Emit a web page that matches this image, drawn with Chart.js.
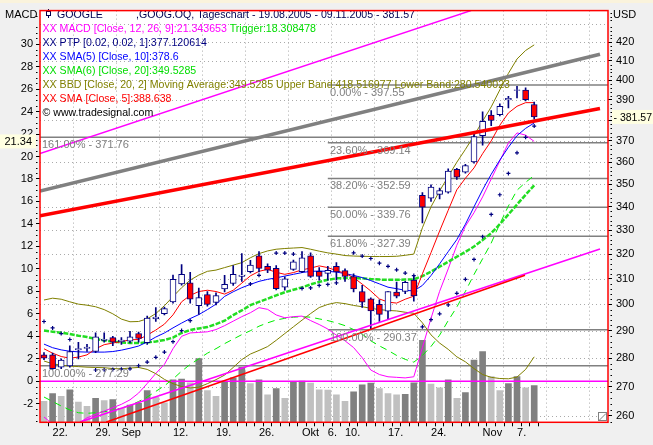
<!DOCTYPE html>
<html>
<head>
<meta charset="utf-8">
<title>GOOGLE Tageschart</title>
<script src="https://cdn.jsdelivr.net/npm/chart.js@4.4.1/dist/chart.umd.min.js"></script>
<style>
  html, body { margin: 0; padding: 0; background: #f0f0f0; }
  canvas { display: block; }
</style>
</head>
<body>
<canvas id="chart" width="653" height="445"></canvas>
<script>
// trading days 19.08.2005 - 09.11.2005
const tradingDays = ['19.08.','22.08.','23.08.','24.08.','25.08.','26.08.','29.08.','30.08.','31.08.','01.09.',
  '02.09.','06.09.','07.09.','08.09.','09.09.','12.09.','13.09.','14.09.','15.09.','16.09.',
  '19.09.','20.09.','21.09.','22.09.','23.09.','26.09.','27.09.','28.09.','29.09.','30.09.',
  '03.10.','04.10.','05.10.','06.10.','07.10.','10.10.','11.10.','12.10.','13.10.','14.10.',
  '17.10.','18.10.','19.10.','20.10.','21.10.','24.10.','25.10.','26.10.','27.10.','28.10.',
  '31.10.','01.11.','02.11.','03.11.','04.11.','07.11.','08.11.','09.11.'];
const tickIdx  = [1, 6, 9, 15, 20, 25, 30, 33, 35, 40, 45, 51, 55];
const tickText = ['22.', '29.', 'Sep', '12.', '19.', '26.', 'Okt', '6.', '10.', '17.', '24.', 'Nov', '7.'];

const open = [281.2,281.2,276.8,277.2,283.0,283.5,282.4,286.5,287.5,286.0,
  286.2,289.0,285.6,294.5,296.5,301.0,308.0,308.4,299.5,303.8,
  300.8,306.0,308.2,311.0,312.9,319.3,315.0,314.2,306.7,313.8,
  312.9,319.3,313.0,312.2,315.0,313.3,310.9,305.0,302.2,300.0,
  297.4,304.8,305.0,309.5,345.0,343.8,345.5,346.5,356.8,355.5,
  360.1,372.5,382.4,382.6,390.0,394.8,394.9,387.7];
const high = [282.0,281.8,279.8,284.5,285.8,285.0,289.3,289.3,288.0,287.5,
  289.8,289.5,295.5,298.8,299.0,311.5,315.7,312.6,306.3,305.0,
  304.5,311.4,315.3,320.2,317.4,321.0,316.0,315.3,310.8,317.5,
  321.0,320.5,314.5,315.0,316.5,314.0,312.0,307.4,302.5,301.8,
  305.0,308.7,309.0,311.4,346.3,349.7,348.3,357.0,357.2,359.0,
  373.5,384.0,384.7,388.0,391.8,396.8,396.0,388.9];
const low = [279.5,276.0,276.3,276.8,279.7,282.4,282.0,285.8,284.5,285.0,
  285.5,285.8,285.0,293.5,296.0,300.5,307.5,300.5,296.2,299.3,
  299.8,304.8,307.4,309.0,312.4,312.8,312.5,305.6,305.5,313.4,
  312.5,310.6,309.5,309.5,309.5,309.0,304.8,298.8,290.6,293.5,
  294.2,302.5,304.2,301.2,333.0,342.4,343.5,346.0,352.2,355.0,
  359.6,368.0,377.3,382.0,386.0,391.0,389.5,380.5];
const close = [280.0,276.3,279.3,282.4,283.5,284.0,287.8,286.9,285.8,286.6,
  287.8,287.2,294.8,295.2,298.4,309.8,311.8,302.0,302.6,300.0,
  303.4,307.8,311.8,311.5,315.5,314.2,313.5,306.1,310.0,316.8,
  318.5,311.0,311.0,313.4,312.8,311.0,306.0,300.9,297.5,296.2,
  305.0,303.2,308.6,303.3,339.9,348.7,347.2,356.0,353.2,358.5,
  372.0,379.4,379.8,386.8,390.7,395.1,390.1,381.57];
// volume, million shares (own hidden scale)
const volume = [5.1,7.0,6.3,7.9,4.9,3.9,5.8,5.3,5.5,3.4,
  4.2,4.6,7.7,6.1,4.7,10.3,10.5,9.6,15.5,7.7,
  6.3,9.9,10.8,13.4,9.4,10.3,6.7,8.2,5.8,9.9,
  10.0,9.5,7.9,7.8,6.7,5.1,7.4,9.1,9.5,8.2,
  7.0,6.7,6.8,9.6,19.9,9.3,8.4,10.3,5.8,7.2,
  15.1,17.2,11.1,7.7,9.4,11.1,8.4,8.9];
// parabolic time/price (PTP)
const ptp = [293.5,291.1,289.0,286.8,null,null,275.8,275.9,276.0,276.1,
  276.2,277.3,278.6,280.3,282.2,286.0,290.1,293.8,null,null,
  null,null,null,null,308.0,311.4,null,320.4,320.4,320.0,
  306.2,306.4,307.4,307.8,308.4,null,320.5,319.2,318.2,316.3,
  315.0,313.6,312.3,311.3,291.5,294.2,296.4,299.8,304.3,309.8,
  317.8,327.2,336.7,345.3,354.9,364.4,371.7,377.1];
const sma5 = [283.4,281.8,280.6,280.0,280.4,281.2,283.4,284.9,285.5,286.0,
  286.7,286.8,288.4,290.3,292.5,296.0,301.0,303.5,305.0,305.5,
  305.0,304.0,305.5,308.3,311.2,313.0,313.8,312.6,311.8,312.5,
  313.6,314.3,315.2,314.5,313.3,312.2,310.5,307.9,305.2,302.1,
  300.9,300.5,302.0,303.2,312.0,320.6,329.6,338.5,347.5,352.7,
  357.4,364.0,370.0,377.5,383.5,386.8,388.6,388.6];
const sma10 = [285.1,283.8,283.0,282.5,282.3,282.2,282.2,282.2,282.4,282.9,
  283.6,284.4,285.9,287.7,289.2,291.1,292.9,294.6,296.1,298.0,
  300.1,303.1,304.9,306.5,307.8,309.0,309.8,310.4,311.1,311.8,
  312.5,313.0,313.1,313.0,312.7,312.1,311.4,310.5,309.3,308.0,
  306.7,306.1,305.5,305.2,307.4,311.3,316.0,321.0,326.0,332.5,
  340.0,347.5,354.5,361.0,367.0,372.5,376.0,378.6];
const sma20 = [290.1,289.7,289.3,288.8,288.2,287.7,287.0,286.4,286.1,285.7,
  285.5,285.5,285.7,286.1,286.6,287.5,289.2,290.3,290.9,291.4,
  292.5,293.8,295.9,297.7,299.7,301.0,302.2,303.5,304.7,305.7,
  306.6,307.8,308.8,309.6,310.2,310.3,310.3,310.2,309.9,309.7,
  309.6,309.6,309.7,309.8,311.1,312.9,314.9,316.9,318.9,320.9,
  323.1,325.8,328.7,332.5,336.7,341.0,345.3,349.5];
const bbUpper = [301.7,302.4,302.0,301.0,300.1,299.7,299.1,298.0,296.4,294.4,
  293.4,293.5,294.5,296.5,299.5,303.0,306.5,309.5,311.5,313.0,
  313.5,314.5,315.5,316.5,318.5,320.2,321.3,322.0,322.3,322.5,
  322.7,322.0,321.2,320.5,320.0,319.4,319.2,319.1,319.0,319.0,
  319.0,319.1,319.5,320.0,331.0,340.0,347.0,353.5,360.0,366.0,
  372.5,379.5,386.5,395.0,403.5,411.0,415.5,418.5];
const bbLower = [279.0,278.0,277.5,277.2,277.0,276.8,276.7,276.6,276.3,276.2,
  276.5,276.7,276.0,274.5,272.5,271.0,270.0,269.5,269.8,271.0,
  272.4,274.0,276.7,279.5,281.5,282.8,284.2,286.5,289.0,291.5,
  294.0,296.5,298.8,300.0,300.7,300.3,299.6,299.1,298.5,298.0,
  297.7,297.5,297.0,296.6,293.0,288.5,285.5,283.2,280.5,278.7,
  276.3,274.2,273.2,272.8,272.7,273.3,276.0,280.5];
const macd = [-3.18,-3.8,-4.1,-4.0,-3.75,-3.25,-2.95,-2.65,-2.35,-2.05,
  -1.65,-1.05,-0.2,0.7,1.5,2.9,4.0,4.3,4.35,4.4,
  4.6,4.95,5.35,5.75,6.1,6.55,6.4,5.9,5.65,5.75,
  5.8,5.4,5.05,4.65,4.1,3.6,3.0,2.1,1.0,0.6,
  0.4,0.35,0.3,0.4,3.0,5.6,8.0,10.0,12.1,13.8,
  15.0,16.4,18.0,19.6,21.2,22.1,21.9,21.34];
const trigger = [-1.4,-1.8,-2.2,-2.55,-2.8,-2.85,-2.8,-2.7,-2.6,-2.4,
  -2.15,-1.8,-1.4,-0.9,-0.4,0.2,0.9,1.5,2.0,2.5,
  2.9,3.35,3.75,4.15,4.5,4.9,5.2,5.45,5.6,5.7,
  5.75,5.7,5.55,5.4,5.2,4.95,4.6,4.2,3.6,3.15,
  2.75,2.3,1.95,1.7,2.3,3.1,4.1,5.4,6.6,8.0,
  9.5,10.9,12.3,14.0,15.6,17.0,17.7,18.31];

// Fibonacci retracement (from Oct low to Nov high) and older extension
const fibLevels = [397.55, 369.14, 352.59, 339.76, 327.39, 290.37];
const fibNames  = ['0.00%', '23.60%', '38.20%', '50.00%', '61.80%', '100.00%'];
const fibFrom = 33.0;
const extLevels = [371.76, 277.29];
const extNames  = ['161.00%', '100.00%'];

// hand drawn trend lines: [bar index, price] end points
const channelTop    = [[-0.47, 364.0], [49.65, 437.3]];
const channelBottom = [[4.19, 258.0], [64.65, 322.1]];
const grayTrend     = [[-0.47, 346.9], [64.65, 413.5]];
const redTrend      = [[-0.47, 336.1], [64.65, 385.7]];
const redSupport    = [[7.25, 258.0], [55.93, 311.4]];

const macdTicks = [-2,0,2,4,6,8,10,12,14,16,18,20,22,24,26,28,30];
const priceTicks = [260,270,280,290,300,310,320,330,340,350,360,370,380,390,400,410,420];
const priceGrid = priceTicks.concat([430]);

const legendLines = [
  [['XX MACD [Close, 12, 26, 9]:21.343653', '#ff00ff'], [' Trigger:18.308478', '#00dd00']],
  [['XX PTP [0.02, 0.02, 1]:377.120614', '#000080']],
  [['XX SMA(5) [Close, 10]:378.6', '#0000ff']],
  [['XX SMA(6) [Close, 20]:349.5285', '#00dd00']],
  [['XX BBD [Close, 20, 2] Moving Average:349.5285 Upper Band:418.516977 Lower Band:280.540023', '#808000']],
  [['XX SMA [Close, 5]:388.638', '#ff0000']],
  [['\u00a9 www.tradesignal.com', '#000000']]
];

const xMin = -0.465, xMax = 65.58;
const FONT = '"Liberation Sans", Arial, sans-serif';

Chart.defaults.font.family = FONT;
Chart.defaults.font.size = 11;
Chart.defaults.color = '#000';

const xy = arr => arr.map((v, i) => ({x: i, y: v}));
const seg = pts => pts.map(p => ({x: p[0], y: p[1]}));
const flat = (y, from, to) => [{x: from, y: y}, {x: to, y: y}];

function lineSet(data, axis, color, width, order, extra) {
  return Object.assign({
    type: 'line', data: data, yAxisID: axis, borderColor: color, borderWidth: width,
    pointRadius: 0, fill: false, tension: 0, order: order
  }, extra || {});
}

const datasets = [];
datasets.push({
  type: 'bar', data: xy(volume), yAxisID: 'vol', barThickness: 6, grouped: false, order: 100,
  backgroundColor: c => (c.dataIndex > 0 && volume[c.dataIndex] >= volume[c.dataIndex - 1]) ? '#808080' : '#c0c0c0'
});
fibLevels.forEach(v => datasets.push(lineSet(flat(v, fibFrom, xMax), 'price', '#808080', 1.5, 90)));
extLevels.forEach(v => datasets.push(lineSet(flat(v, xMin, xMax), 'price', '#808080', 1.5, 90)));
datasets.push(lineSet(flat(0, xMin, xMax), 'macd', '#ff00ff', 1.5, 85));
datasets.push(lineSet(xy(trigger), 'macd', '#00ee00', 1, 80, {borderDash: [7, 5]}));
datasets.push(lineSet(xy(macd), 'macd', '#ff00ff', 1, 75));
datasets.push(lineSet(xy(bbUpper), 'price', '#808000', 1, 50));
datasets.push(lineSet(xy(bbLower), 'price', '#808000', 1, 50));
datasets.push(lineSet(xy(sma20), 'price', '#22dd22', 2.5, 45, {borderDash: [5, 1.5]}));
datasets.push(lineSet(xy(sma10), 'price', '#0000ff', 1, 40));
datasets.push(lineSet(xy(sma5), 'price', '#ff0000', 1, 35));
datasets.push({
  type: 'bar', data: low.map((v, i) => ({x: i, y: [v, high[i]]})), yAxisID: 'price',
  barThickness: 1, grouped: false, backgroundColor: '#000080', order: 9
});
datasets.push({
  type: 'bar', data: open.map((v, i) => ({x: i, y: [v, close[i]]})), yAxisID: 'price',
  barThickness: 6, grouped: false, borderColor: '#000080', borderWidth: 1, borderSkipped: false, order: 8,
  backgroundColor: c => close[c.dataIndex] < open[c.dataIndex] ? '#ff0000' : '#ffffff'
});
datasets.push(lineSet(seg(channelTop), 'price', '#ff00ff', 1.5, 6));
datasets.push(lineSet(seg(channelBottom), 'price', '#ff00ff', 1.5, 6));
datasets.push(lineSet(seg(redSupport), 'price', '#ff0000', 1.5, 5));
datasets.push(lineSet(seg(grayTrend), 'price', '#808080', 3.5, 4));
datasets.push(lineSet(seg(redTrend), 'price', '#ff0000', 3.5, 3));
datasets.push({
  type: 'line', data: xy(ptp), yAxisID: 'price', showLine: false, order: 1,
  pointStyle: 'cross', pointRadius: 2, borderColor: '#000080', borderWidth: 1.2
});

// background, grid, frame, labels and texts
const decor = {
  id: 'decor',
  beforeDraw(chart) {
    const {ctx, chartArea: a, scales} = chart;
    ctx.save();
    ctx.fillStyle = '#f0f0f0';
    ctx.fillRect(0, 0, chart.width, chart.height);
    ctx.fillStyle = '#faf3dc';
    ctx.fillRect(0, 0, chart.width, 3);
    ctx.fillStyle = '#ffffff';
    ctx.fillRect(a.left, a.top, a.right - a.left, a.bottom - a.top);
    ctx.strokeStyle = '#aaaaaa';
    ctx.lineWidth = 1;
    ctx.setLineDash([1, 3]);
    ctx.beginPath();
    priceGrid.forEach(v => {
      const y = Math.round(scales.price.getPixelForValue(v)) + 0.5;
      ctx.moveTo(a.left, y); ctx.lineTo(a.right, y);
    });
    for (let v = 3.4; v < xMax; v += 5) {
      const x = Math.round(scales.x.getPixelForValue(v)) + 0.5;
      ctx.moveTo(x, a.top); ctx.lineTo(x, a.bottom);
    }
    ctx.stroke();
    ctx.restore();
  },
  afterDatasetsDraw(chart) {
    const {ctx, scales} = chart;
    ctx.save();
    ctx.font = '11px ' + FONT;
    ctx.textBaseline = 'alphabetic';
    ctx.textAlign = 'left';
    ctx.fillStyle = '#808080';
    fibLevels.forEach((v, k) => {
      const y = scales.price.getPixelForValue(v);
      ctx.fillText(fibNames[k] + ' - ' + v.toFixed(2), 330, y + 11);
    });
    extLevels.forEach((v, k) => {
      const y = scales.price.getPixelForValue(v);
      ctx.fillText(extNames[k] + ' - ' + v.toFixed(2), 42, y + 11);
    });
    // header
    ctx.font = '10.6px ' + FONT;
    ctx.fillStyle = '#000050';
    ctx.fillText('GOOGLE', 57, 17.5);
    ctx.fillText(',GOOG.OQ, Tageschart - ' + tradingDays[0] + '2005 - ' + tradingDays[tradingDays.length - 1] + '2005 - ' + close[close.length - 1].toFixed(2), 136, 17.5);
    ctx.strokeStyle = '#000050';
    ctx.lineWidth = 1;
    ctx.strokeRect(46.5, 11.5, 4, 4);
    ctx.beginPath();
    ctx.moveTo(48.5, 9); ctx.lineTo(48.5, 11.5);
    ctx.moveTo(48.5, 15.5); ctx.lineTo(48.5, 18);
    ctx.stroke();
    legendLines.forEach((parts, k) => {
      let x = 42.5;
      const y = 31.5 + 14 * k;
      parts.forEach(p => {
        ctx.fillStyle = p[1];
        ctx.fillText(p[0], x, y);
        x += ctx.measureText(p[0]).width;
      });
    });
    ctx.restore();
  },
  afterDraw(chart) {
    const {ctx, chartArea: a, scales} = chart;
    ctx.save();
    // minor axis ticks
    ctx.fillStyle = '#000';
    for (let v = -3.5; v <= 32.5; v += 0.5) {
      if (Math.abs(v % 2) < 1e-9) continue;
      const y = Math.round(scales.macd.getPixelForValue(v));
      ctx.fillRect(36, y, 1.5, 1);
    }
    for (let v = 258; v <= 436; v += 2) {
      if (v % 10 === 0) continue;
      const y = Math.round(scales.price.getPixelForValue(v));
      ctx.fillRect(610.5, y, 1.5, 1);
    }
    // frame
    ctx.strokeStyle = '#ff0000';
    ctx.lineWidth = 1.5;
    ctx.strokeRect(a.left, a.top, a.right - a.left, a.bottom - a.top);
    // resize grip
    ctx.fillStyle = '#ffffff';
    ctx.fillRect(598.5, 412.5, 8, 8);
    ctx.strokeStyle = '#808080';
    ctx.lineWidth = 1;
    ctx.strokeRect(598.5, 412.5, 8, 8);
    ctx.beginPath();
    ctx.moveTo(599, 420.5); ctx.lineTo(606, 413.5);
    ctx.stroke();
    // axis titles
    ctx.font = '11px ' + FONT;
    ctx.fillStyle = '#000';
    ctx.textAlign = 'left';
    ctx.fillText('MACD', 5, 17.5);
    ctx.fillText('USD', 613, 17.5);
    // current value boxes
    const lastMacd = macd[macd.length - 1];
    const ym = scales.macd.getPixelForValue(lastMacd);
    ctx.fillStyle = '#ffffe1';
    ctx.fillRect(0, ym - 7, 36, 14);
    ctx.fillStyle = '#000';
    ctx.textAlign = 'right';
    ctx.fillText(lastMacd.toFixed(2), 32, ym + 4);
    const lastClose = close[close.length - 1];
    const yp = scales.price.getPixelForValue(lastClose);
    ctx.fillStyle = '#ffffe1';
    ctx.fillRect(612, yp - 7, 41, 14);
    ctx.fillStyle = '#000';
    ctx.font = '10.5px ' + FONT;
    ctx.textAlign = 'right';
    ctx.fillText('- ' + lastClose.toFixed(2), 652, yp + 4);
    ctx.restore();
  }
};

new Chart(document.getElementById('chart'), {
  type: 'bar',
  data: {datasets: datasets},
  plugins: [decor],
  options: {
    responsive: false,
    animation: false,
    events: [],
    layout: {padding: {top: 4.7, left: 0, right: 0, bottom: 0}},
    plugins: {legend: {display: false}, tooltip: {enabled: false}},
    scales: {
      x: {
        type: 'linear', min: xMin, max: xMax, offset: false,
        grid: {drawOnChartArea: false, drawTicks: true, tickLength: 4, color: '#000'},
        border: {display: false},
        afterBuildTicks: s => { s.ticks = tradingDays.map((d, i) => ({value: i})); },
        afterFit: s => { s.height = 22.7; },
        ticks: {
          autoSkip: false, maxRotation: 0, align: 'start', padding: 0,
          callback: v => { const k = tickIdx.indexOf(v); return k >= 0 ? tickText[k] : ''; }
        }
      },
      macd: {
        type: 'linear', position: 'left', min: -3.65, max: 32.98,
        grid: {drawOnChartArea: false, tickLength: 4, color: '#000'},
        border: {display: false},
        afterBuildTicks: s => { s.ticks = macdTicks.map(v => ({value: v})); },
        afterFit: s => { s.width = 40; },
        ticks: {padding: 3, callback: v => String(v)}
      },
      price: {
        type: 'logarithmic', position: 'right', min: 257.9, max: 437.3,
        grid: {drawOnChartArea: false, tickLength: 4, color: '#000'},
        border: {display: false},
        afterBuildTicks: s => { s.ticks = priceTicks.map(v => ({value: v})); },
        afterFit: s => { s.width = 45; },
        ticks: {padding: 4, callback: v => String(v)}
      },
      vol: {type: 'linear', display: false, min: 0, max: 100}
    }
  }
});
</script>
</body>
</html>
